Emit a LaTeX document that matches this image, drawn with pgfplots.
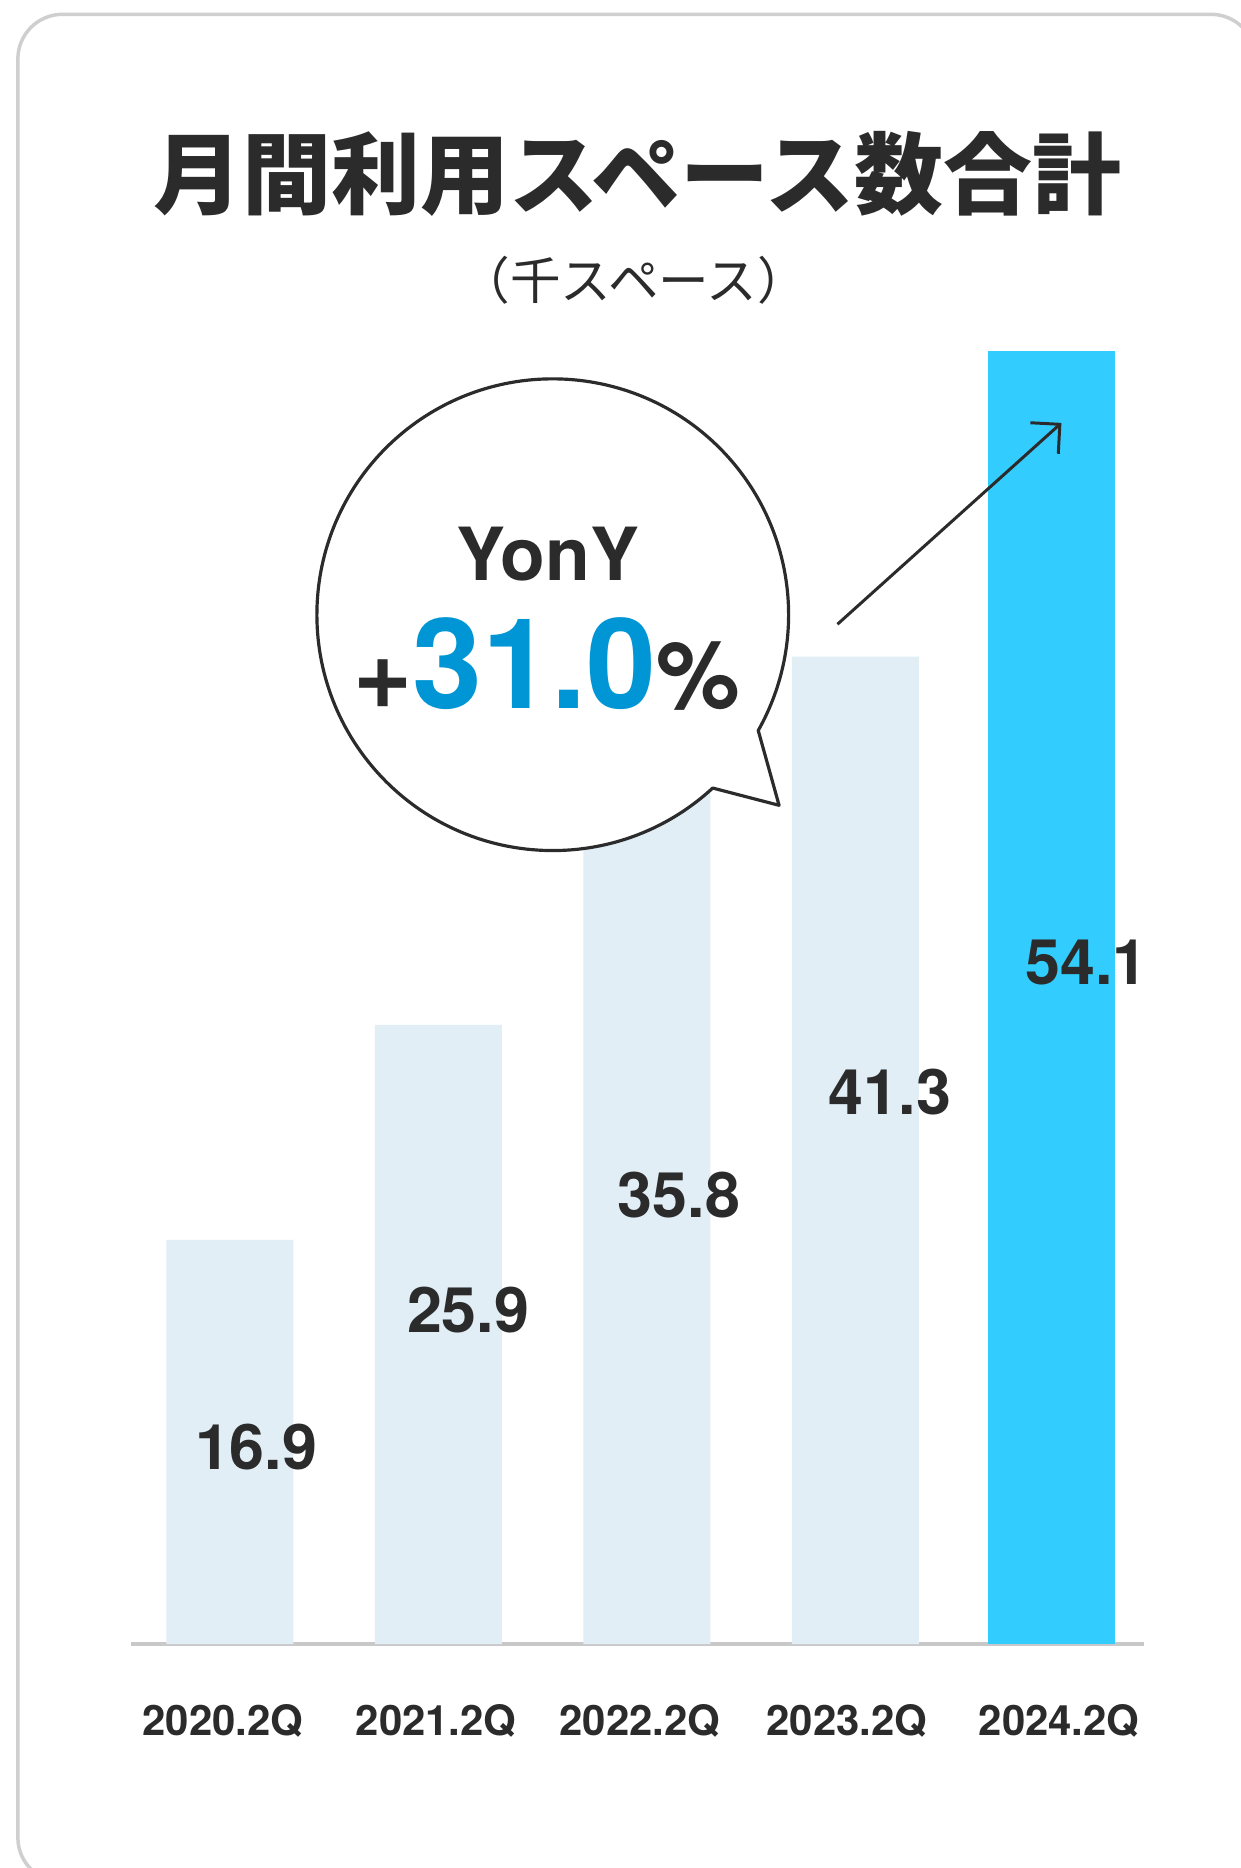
\documentclass[border=0pt]{standalone}
\usepackage{pgfplots}
\pgfplotsset{compat=1.18}
\usepackage{fontspec}
\setmainfont{TeX Gyre Heros}
\newfontfamily\cjk{Noto Sans CJK JP}
\usetikzlibrary{arrows.meta}
\definecolor{barlight}{HTML}{E2EEF5}
\definecolor{barbright}{HTML}{33CCFF}
\definecolor{txt}{HTML}{2B2B2B}
\definecolor{pctblue}{HTML}{0096D6}
\definecolor{cardgray}{HTML}{CFCFCF}
\definecolor{basegray}{HTML}{C8C8C8}

\pgfplotstableread{
x y
0 16.9
1 25.9
2 35.8
3 41.3
}\oldbars
\pgfplotstableread{
x y
3.94 54.1
}\newbar

\begin{document}
\begin{tikzpicture}
\useasboundingbox (0,0) rectangle (124.92mm,-188.16mm);
\begin{scope}[x=0.12mm,y=-0.12mm]
\fill[white] (0,0) rectangle (1041,1568);
\draw[cardgray, line width=0.35mm, rounded corners=4.5mm] (15,12) rectangle (1054,1580);
\node[font={\cjk\bfseries\fontsize{25.5}{30}\selectfont}, text=txt] at (535,146) {月間利用スペース数合計};
\node[font={\cjk\fontsize{14.5}{17}\selectfont}, text=txt] at (532,235) {（千スペース）};
\end{scope}
\begin{axis}[
  at={(13.2mm,-165.6mm)}, anchor=south west,
  scale only axis, width=102mm, height=144.5mm,
  xmin=-0.4743, xmax=4.383, ymin=0, ymax=60,
  axis x line=bottom, axis y line=none,
  x axis line style={-, draw=basegray, line width=0.45mm},
  xtick={-0.034,0.989,1.966,2.960,3.977},
  xticklabels={2020.2Q,2021.2Q,2022.2Q,2023.2Q,2024.2Q},
  major tick length=0pt,
  xticklabel style={font=\fontsize{12}{12}\selectfont\bfseries, text=txt, anchor=base, yshift=-9.2mm},
  clip=false,
  ybar, bar width=12.8mm,
]
\addplot[ybar, bar shift=0pt, fill=barlight, draw=none] table[x=x,y=y] {\oldbars};
\addplot[ybar, bar shift=0pt, fill=barbright, draw=none] table[x=x,y=y] {\newbar};
\end{axis}
\begin{scope}[x=0.12mm,y=-0.12mm]
\foreach \px/\py/\lab in {215/1215/16.9, 393/1100/25.9, 570/1003/35.8, 747/917/41.3, 912/808/54.1}{
  \node[font=\fontsize{18}{18}\selectfont\bfseries, text=txt, inner sep=0pt] at (\px,\py) {\lab};
}
\draw[txt, line width=0.32mm, fill=white, line join=round]
  (464,516) ++(47.3:198) arc[start angle=47.3, end angle=389.4, radius=198] -- (654,676) -- cycle;
\draw[txt, line width=0.3mm, -{Straight Barb[length=2.1mm, width=4.2mm, line width=0.3mm]}] (703,524) -- (891,355);
\node[font=\fontsize{21}{21}\selectfont\bfseries, text=txt] at (460,465) {YonY};
\node[anchor=base, inner sep=0pt, text=txt] at (459,595)
  {{\fontsize{29}{29}\selectfont\bfseries +}{\fontsize{36}{36}\selectfont\bfseries\color{pctblue}31.0}{\fontsize{27}{27}\selectfont\bfseries\%}};
\end{scope}
\end{tikzpicture}
\end{document}
